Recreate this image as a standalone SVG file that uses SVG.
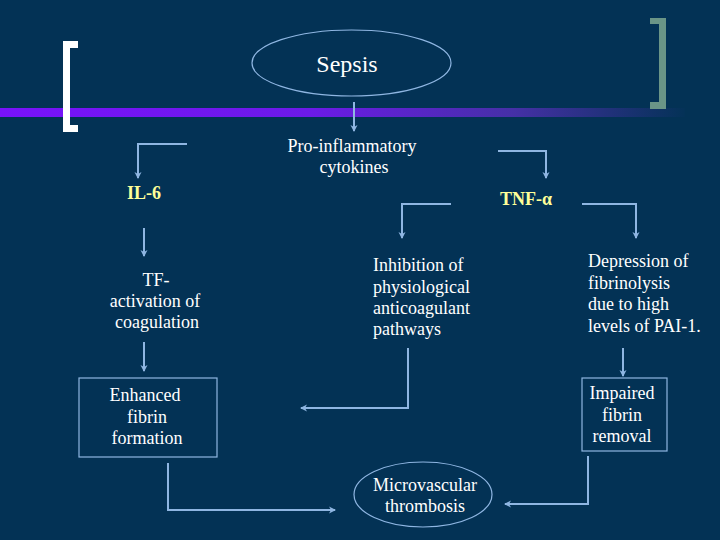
<svg xmlns="http://www.w3.org/2000/svg" width="720" height="540" viewBox="0 0 720 540">
<defs>
<linearGradient id="bar" x1="0" y1="0" x2="685" y2="0" gradientUnits="userSpaceOnUse">
<stop offset="0" stop-color="#7812fa"/>
<stop offset="0.45" stop-color="#6c1ae8"/>
<stop offset="0.75" stop-color="#4530a6"/>
<stop offset="1" stop-color="#043257"/>
</linearGradient>
<marker id="ah" markerWidth="8" markerHeight="8" refX="6" refY="4" orient="auto" markerUnits="userSpaceOnUse">
<path d="M0,0.5 L7,4 L0,7.5 L2,4 Z" fill="#8fb6e2"/>
</marker>
<style>
.c{fill:none;stroke:#8fb6e2;stroke-width:2;marker-end:url(#ah)}
.o{fill:none;stroke:#8fb6e2;stroke-width:1.2}
</style>
</defs>
<rect x="0" y="0" width="720" height="540" fill="#033255"/>
<rect x="0" y="108" width="685" height="9" fill="url(#bar)"/>
<path d="M78,41 H63 V132 H78 V125 H70 V48 H78 Z" fill="#ffffff"/>
<path d="M650,18 H666 V109 H650 V102 H659 V24 H650 Z" fill="#6a9587"/>

<g id="connectors">
<path class="c" d="M354,102 V131"/>
<path class="c" d="M187,144 H138 V178"/>
<path class="c" d="M498,151 H546 V178"/>
<path class="c" d="M451,204 H402 V238"/>
<path class="c" d="M582,204 H636 V238"/>
<path class="c" d="M144,228 V256"/>
<path class="c" d="M144,342 V371"/>
<path class="c" d="M408,348 V408 H301"/>
<path class="c" d="M623,348 V376"/>
<path class="c" d="M588,456 V504 H505"/>
<path class="c" d="M168,463 V510 H335"/>
</g>

<g id="sepsis">
<ellipse class="o" cx="351.5" cy="63" rx="99.5" ry="33"/>
<text font-family="Liberation Serif" font-size="24" fill="#ffffff" x="347" y="72" text-anchor="middle">Sepsis</text>
</g>
<g id="cytokines">
<text font-family="Liberation Serif" font-size="18" fill="#ffffff" x="352" y="152" text-anchor="middle">Pro-inflammatory</text>
<text font-family="Liberation Serif" font-size="18" fill="#ffffff" x="354" y="173" text-anchor="middle">cytokines</text>
</g>
<g id="il6">
<text font-family="Liberation Serif" font-size="18" font-weight="bold" fill="#ffff99" x="144" y="199" text-anchor="middle">IL-6</text>
</g>
<g id="tnf">
<text font-family="Liberation Serif" font-size="18" font-weight="bold" fill="#ffff99" x="526" y="205" text-anchor="middle">TNF-α</text>
</g>
<g id="tf">
<text font-family="Liberation Serif" font-size="18" fill="#ffffff" x="156" y="286" text-anchor="middle">TF-</text>
<text font-family="Liberation Serif" font-size="18" fill="#ffffff" x="155" y="307" text-anchor="middle">activation of</text>
<text font-family="Liberation Serif" font-size="18" fill="#ffffff" x="157" y="328" text-anchor="middle">coagulation</text>
</g>
<g id="inhibition">
<text font-family="Liberation Serif" font-size="18" fill="#ffffff" x="373" y="271">Inhibition of</text>
<text font-family="Liberation Serif" font-size="18" fill="#ffffff" x="373" y="293">physiological</text>
<text font-family="Liberation Serif" font-size="18" fill="#ffffff" x="373" y="314">anticoagulant</text>
<text font-family="Liberation Serif" font-size="18" fill="#ffffff" x="373" y="335">pathways</text>
</g>
<g id="depression">
<text font-family="Liberation Serif" font-size="18" fill="#ffffff" x="588" y="267">Depression of</text>
<text font-family="Liberation Serif" font-size="18" fill="#ffffff" x="588" y="289">fibrinolysis</text>
<text font-family="Liberation Serif" font-size="18" fill="#ffffff" x="588" y="310">due to high</text>
<text font-family="Liberation Serif" font-size="18" fill="#ffffff" x="588" y="332">levels of PAI-1.</text>
</g>
<g id="enhanced">
<rect class="o" x="79" y="378" width="138" height="79"/>
<text font-family="Liberation Serif" font-size="18" fill="#ffffff" x="145" y="401" text-anchor="middle">Enhanced</text>
<text font-family="Liberation Serif" font-size="18" fill="#ffffff" x="147" y="423" text-anchor="middle">fibrin</text>
<text font-family="Liberation Serif" font-size="18" fill="#ffffff" x="147" y="444" text-anchor="middle">formation</text>
</g>
<g id="impaired">
<rect class="o" x="582" y="378" width="85" height="73"/>
<text font-family="Liberation Serif" font-size="18" fill="#ffffff" x="622" y="399" text-anchor="middle">Impaired</text>
<text font-family="Liberation Serif" font-size="18" fill="#ffffff" x="622" y="421" text-anchor="middle">fibrin</text>
<text font-family="Liberation Serif" font-size="18" fill="#ffffff" x="622" y="442" text-anchor="middle">removal</text>
</g>
<g id="thrombosis">
<ellipse class="o" cx="423" cy="494.5" rx="69" ry="32.5"/>
<text font-family="Liberation Serif" font-size="18" fill="#ffffff" x="425" y="491" text-anchor="middle">Microvascular</text>
<text font-family="Liberation Serif" font-size="18" fill="#ffffff" x="425" y="512" text-anchor="middle">thrombosis</text>
</g>
</svg>
